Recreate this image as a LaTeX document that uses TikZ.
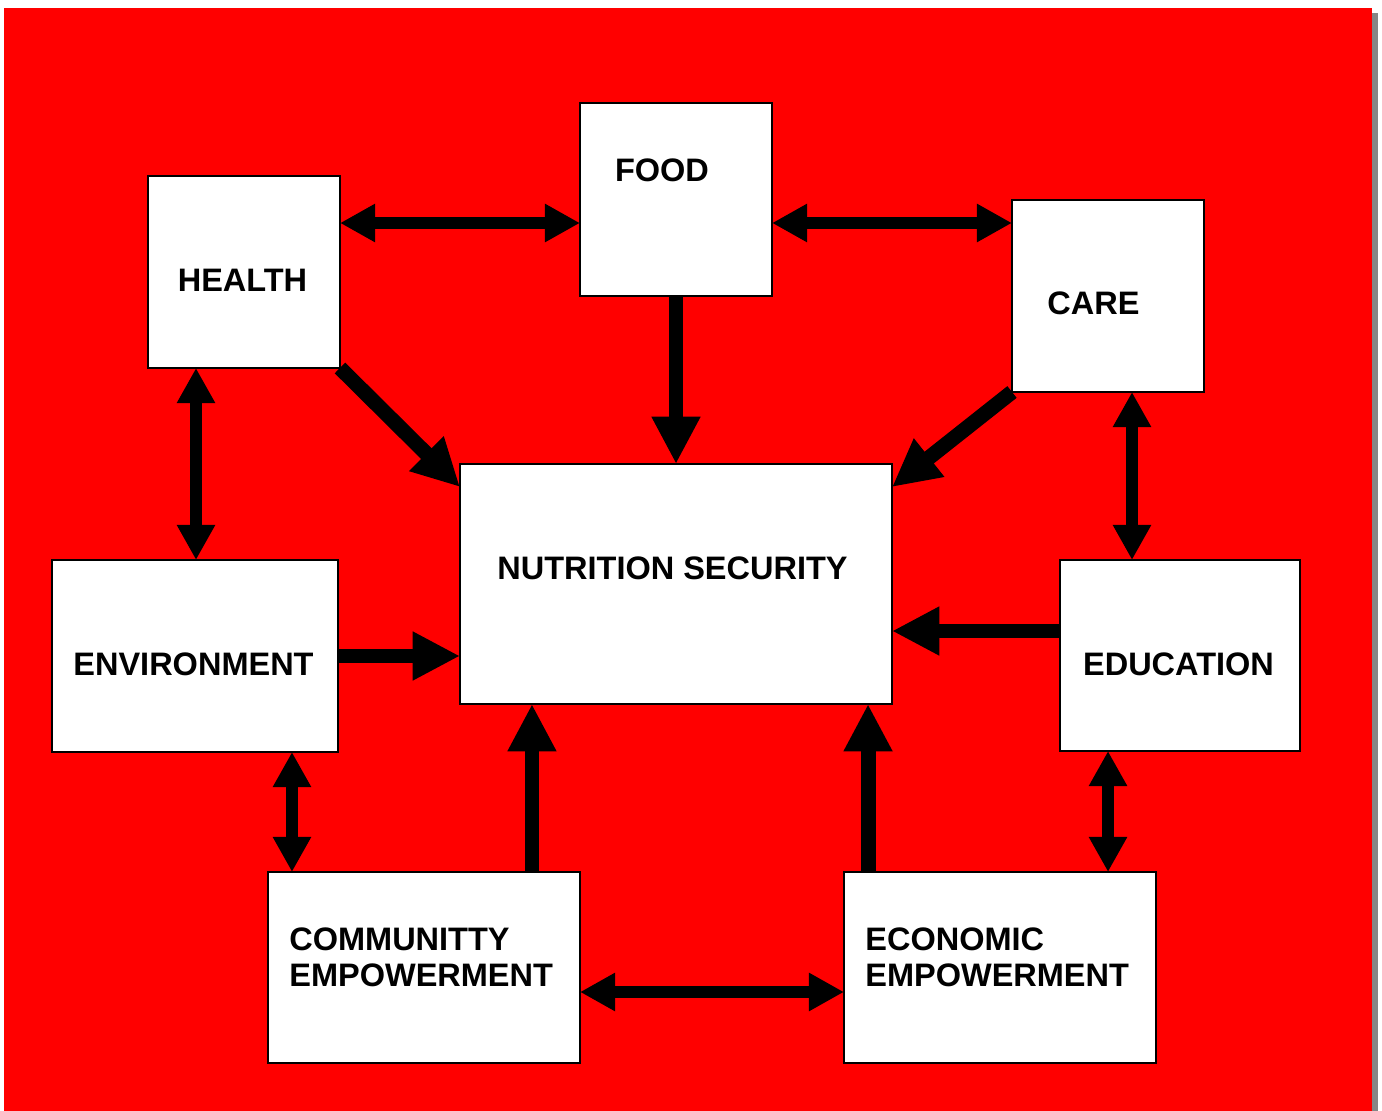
\documentclass[tikz,border=0pt]{standalone}
\usepackage{fontspec}
\setmainfont{Liberation Sans}
\usetikzlibrary{arrows.meta}

\tikzset{
  box/.style={draw, fill=white, line width=0.8pt, inner sep=0pt, outer sep=0pt},
  lbl/.style={font=\bfseries\fontsize{18.5}{20.5}\selectfont, inner sep=0pt},
  dbl/.style={{Triangle[length=20pt,width=20.5pt]}-{Triangle[length=20pt,width=20.5pt]}, line width=6.8pt},
  sgl/.style={-{Triangle[length=27pt,width=26pt]}, line width=8.5pt},
}

\begin{document}
\begin{tikzpicture}[x=0.02cm,y=-0.02cm]
        \useasboundingbox (0,0) rectangle (1382,1111);
        \fill [gray!95] (1372,13) rectangle (1378,1111);
        \fill [red] (4,8) rectangle (1372,1111);
        % boxes
        \node [box, minimum width=3.84cm, minimum height=3.86cm] (food) at (676,199.5) {};
        \node [box, minimum width=3.84cm, minimum height=3.84cm] (health) at (244,272) {};
        \node [box, minimum width=3.84cm, minimum height=3.84cm] (care) at (1108,296) {};
        \node [box, minimum width=8.64cm, minimum height=4.8cm] (ns) at (676,584) {};
        \node [box, minimum width=5.72cm, minimum height=3.84cm] (env) at (195,656) {};
        \node [box, minimum width=4.8cm, minimum height=3.82cm] (edu) at (1180,655.5) {};
        \node [box, minimum width=6.24cm, minimum height=3.82cm] (comm) at (424,967.5) {};
        \node [box, minimum width=6.24cm, minimum height=3.82cm] (econ) at (1000,967.5) {};
        % labels
        \node [lbl] (foodlbl) at (662,170) {FOOD};
        \node [lbl] (healthlbl) at (242.5,280) {HEALTH};
        \node [lbl] (carelbl) at (1093.5,303) {CARE};
        \node [lbl] (nslbl) at (672.5,568) {NUTRITION SECURITY};
        \node [lbl] (envlbl) at (193.5,664) {ENVIRONMENT};
        \node [lbl] (edulbl) at (1178.5,664) {EDUCATION};
        \node [lbl, anchor=west, align=left] (commlbl) at (289,957) {COMMUNITTY\\EMPOWERMENT};
        \node [lbl, anchor=west, align=left] (econlbl) at (865,957) {ECONOMIC\\EMPOWERMENT};
        % two-way links
        \coordinate (hf) at ([yshift=0.98cm]health.east);
        \draw [dbl] (hf) -- (hf -| food.west);
        \coordinate (fc) at ([yshift=-0.47cm]food.east);
        \draw [dbl] (fc) -- (fc -| care.west);
        \coordinate (he) at ([xshift=-0.96cm]health.south);
        \draw [dbl] (he) -- (he |- env.north);
        \coordinate (ce) at ([xshift=0.48cm]care.south);
        \draw [dbl] (ce) -- (ce |- edu.north);
        \coordinate (ec) at ([xshift=1.94cm]env.south);
        \draw [dbl] (ec) -- (ec |- comm.north);
        \coordinate (ee) at ([xshift=-1.44cm]edu.south);
        \draw [dbl] (ee) -- (ee |- econ.north);
        \coordinate (ce2) at ([yshift=-0.49cm]comm.east);
        \draw [dbl] (ce2) -- (ce2 -| econ.west);
        % links into nutrition security
        \draw [sgl] (food.south) -- (ns.north);
        \draw [sgl] (health.south east) -- ([yshift=-0.46cm]ns.north west);
        \draw [sgl] (care.south west) -- ([yshift=-0.46cm]ns.north east);
        \draw [sgl] (env.east) -- (env.east -| ns.west);
        \coordinate (en) at ([yshift=0.49cm]edu.west);
        \draw [sgl] (en) -- (en -| ns.east);
        \coordinate (cn) at ([xshift=2.16cm]comm.north);
        \draw [sgl] (cn) -- (cn |- ns.south);
        \coordinate (on) at ([xshift=-2.64cm]econ.north);
        \draw [sgl] (on) -- (on |- ns.south);
\end{tikzpicture}
\end{document}
